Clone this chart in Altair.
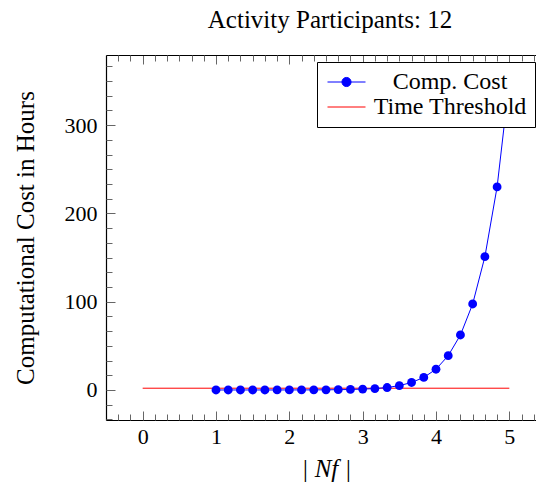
import altair as alt
import pandas as pd

# |Nf| sample points and the computational cost (hours) at each
nf = [1.0, 1.1667, 1.3333, 1.5, 1.6667, 1.8333, 2.0, 2.1667, 2.3333, 2.5,
      2.6667, 2.8333, 3.0, 3.1667, 3.3333, 3.5, 3.6667, 3.8333, 4.0, 4.1667,
      4.3333, 4.5, 4.6667, 4.8333, 5.0]
cost = [0.0, 0.0, 0.01, 0.01, 0.02, 0.03, 0.04, 0.07, 0.12, 0.2,
        0.35, 0.6, 1.0, 1.6, 2.8, 4.9, 8.5, 14.2, 23.5, 38.9,
        62.3, 97.4, 151.0, 230.0, 350.0]

# Time threshold line
threshold_nf = [0, 5]
threshold_hours = [2, 2]

series = ["Comp. Cost", "Time Threshold"]
series_colors = ["#0000ff", "#ff0000"]

# Tick positions (major + minor, five minor ticks per major interval)
x_major = [0, 1, 2, 3, 4, 5]
x_minor = [k / 6 for k in range(-3, 34) if k % 6]
y_major = [0, 100, 200, 300]
y_minor = [k * 100 / 6 for k in range(-2, 23) if k % 6]

FONT = "Liberation Serif"
W, H = 430, 365

cost_df = pd.DataFrame({"nf": nf, "hours": cost})
thr_df = pd.DataFrame({"nf": threshold_nf, "hours": threshold_hours})
empty_df = pd.DataFrame({"nf": pd.Series([], dtype=float),
                         "hours": pd.Series([], dtype=float),
                         "series": pd.Series([], dtype=str)})

xs = alt.Scale(domain=[-0.5, 5.5], range=[0, 440], nice=False, zero=False)
ys = alt.Scale(domain=[-34, 379.4], nice=False, zero=False)


def inward_x(edge, values, size, domain=False):
    # ticks drawn from the bottom or top frame edge into the plot
    orient = "top" if edge == "bottom" else "bottom"
    return alt.Axis(orient=orient, offset=-H, values=values, labels=False,
                    tickSize=size, domain=domain, title=None, grid=False)


def inward_y(values, size):
    return alt.Axis(orient="right", offset=-W, values=values, labels=False,
                    tickSize=size, domain=False, title=None, grid=False)


threshold = alt.Chart(thr_df).mark_line(color="#ff0000", strokeWidth=1).encode(
    x=alt.X("nf:Q", scale=xs,
            axis=alt.Axis(orient="bottom", values=x_major, ticks=False,
                          domain=True, format="d", labelPadding=6,
                          title="| Nf |", titleFontStyle="italic",
                          titleFontSize=25, titlePadding=9, grid=False)),
    y=alt.Y("hours:Q", scale=ys,
            axis=alt.Axis(orient="left", values=y_major, ticks=False,
                          domain=True, format="d", labelPadding=9,
                          title="Computational Cost in Hours",
                          titleFontSize=25, titlePadding=26, grid=False)),
)

cost_line = alt.Chart(cost_df).mark_line(color="#0000ff", strokeWidth=1).encode(
    x=alt.X("nf:Q", scale=xs, axis=inward_x("bottom", x_major, 9)),
    y=alt.Y("hours:Q", scale=ys, axis=inward_y(y_major, 9)),
)

cost_points = alt.Chart(cost_df).mark_circle(color="#0000ff", size=78, opacity=1).encode(
    x=alt.X("nf:Q", scale=xs, axis=inward_x("top", x_major, 9, domain=True)),
    y=alt.Y("hours:Q", scale=ys, axis=inward_y(y_minor, 6)),
)

minor_bottom = alt.Chart(empty_df).mark_circle(opacity=0).encode(
    x=alt.X("nf:Q", scale=xs, axis=inward_x("bottom", x_minor, 6)),
    y=alt.Y("hours:Q", scale=ys, axis=None),
)

# legend: a line with a dot for the cost curve, a plain line for the threshold
cost_symbol = "M-1,0L3,0M0.52,0A0.48,0.48,0,1,0,1.48,0A0.48,0.48,0,1,0,0.52,0Z"
line_symbol = "M-1,0L3,0"

legend_layer = alt.Chart(empty_df).mark_point(filled=True, opacity=1, strokeWidth=1).encode(
    x=alt.X("nf:Q", scale=xs, axis=inward_x("top", x_minor, 6)),
    y=alt.Y("hours:Q", scale=ys, axis=None),
    fill=alt.Fill("series:N", scale=alt.Scale(domain=series, range=series_colors),
                  legend=alt.Legend(title=None, orient="none", legendX=211, legendY=7,
                                    symbolSize=361, symbolStrokeWidth=1,
                                    labelAlign="center", labelOffset=101,
                                    labelFont=FONT, labelFontSize=24, labelLimit=0,
                                    padding=8, rowPadding=1, fillColor="white",
                                    strokeColor="black", cornerRadius=0, zindex=1)),
    stroke=alt.Stroke("series:N", scale=alt.Scale(domain=series, range=series_colors)),
    shape=alt.Shape("series:N", scale=alt.Scale(domain=series, range=[cost_symbol, line_symbol])),
)

chart = alt.layer(
    threshold, cost_line, cost_points, minor_bottom, legend_layer
).resolve_axis(
    x="independent", y="independent"
).properties(
    width=W, height=H,
    title=alt.TitleParams("Activity Participants: 12", font=FONT, fontSize=25,
                          fontWeight="normal", color="black", anchor="middle",
                          baseline="alphabetic", offset=2, dx=9),
    autosize=alt.AutoSizeParams(type="none"),
    padding={"left": 106, "top": 55, "right": 0, "bottom": 65},
).configure_view(
    stroke="transparent"
).configure_axis(
    labelFont=FONT, labelFontSize=22, labelColor="black",
    titleFont=FONT, titleFontSize=22, titleColor="black", titleFontWeight="normal",
    tickColor="#666666", tickWidth=1, domainColor="black", domainWidth=1.2,
)

chart.save("out.html", embed_options={"renderer": "svg", "actions": False})
